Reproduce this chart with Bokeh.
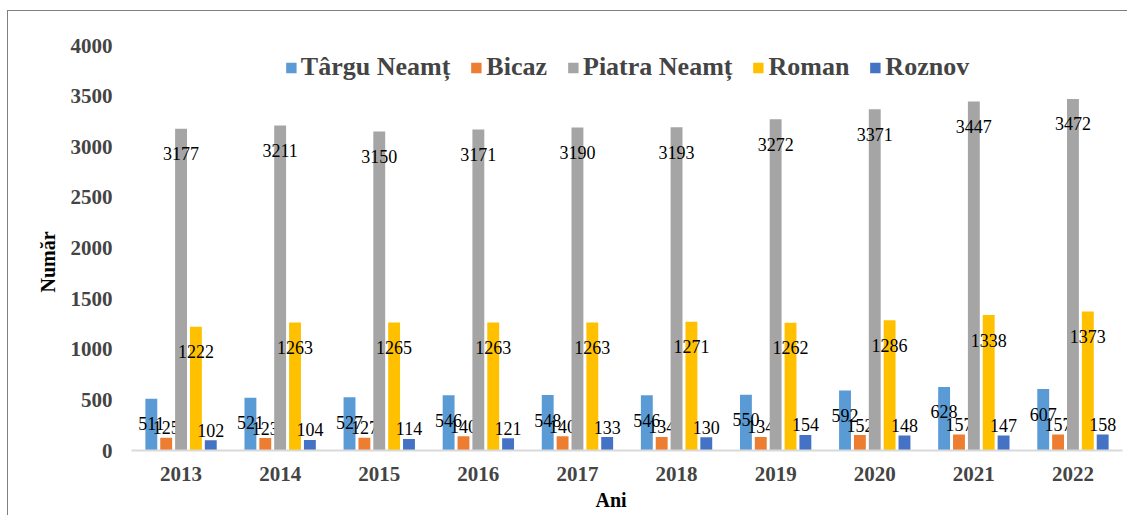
from bokeh.plotting import figure
from bokeh.models import ColumnDataSource, FactorRange, Range1d, FixedTicker, Legend, LegendItem, Title
from bokeh.transform import dodge
from bokeh.core.properties import value
from bokeh.embed import file_html
from bokeh.resources import INLINE

years = ["2013", "2014", "2015", "2016", "2017", "2018", "2019", "2020", "2021", "2022"]
targu_neamt = [511, 521, 527, 546, 548, 546, 550, 592, 628, 607]
bicaz = [125, 123, 127, 140, 140, 134, 134, 152, 157, 157]
piatra_neamt = [3177, 3211, 3150, 3171, 3190, 3193, 3272, 3371, 3447, 3472]
roman = [1222, 1263, 1265, 1263, 1263, 1271, 1262, 1286, 1338, 1373]
roznov = [102, 104, 114, 121, 133, 130, 154, 148, 147, 158]
y_ticks = [0, 500, 1000, 1500, 2000, 2500, 3000, 3500, 4000]

series = [
    ("Târgu Neamț", targu_neamt, "#5B9BD5"),
    ("Bicaz", bicaz, "#ED7D31"),
    ("Piatra Neamț", piatra_neamt, "#A5A5A5"),
    ("Roman", roman, "#FFC000"),
    ("Roznov", roznov, "#4472C4"),
]
offsets = [-0.3, -0.15, 0.0, 0.15, 0.3]

FONT = "Liberation Serif"

p = figure(x_range=FactorRange(*years), y_range=Range1d(0, 4000),
           width=1120, height=505, output_backend="svg", toolbar_location=None,
           min_border_left=123, min_border_right=6, min_border_top=34, min_border_bottom=66)
p.styles = {"border-top": "1px solid #7f7f7f", "border-left": "1px solid #7f7f7f",
            "margin-top": "10px", "margin-left": "7px"}
p.outline_line_color = None
p.xgrid.grid_line_color = None
p.ygrid.grid_line_color = None

items = []
for (name, vals, color), off in zip(series, offsets):
    src = ColumnDataSource(dict(year=years, val=vals))
    r = p.vbar(x=dodge("year", off, range=p.x_range), top="val", width=0.12, source=src,
               fill_color=color, line_color=None)
    items.append(LegendItem(label=name, renderers=[r]))
    big = [v >= 300 for v in vals]
    src_big = ColumnDataSource(dict(year=[y for y, b in zip(years, big) if b],
                                    val=[v for v, b in zip(vals, big) if b],
                                    lab=[str(v) for v, b in zip(vals, big) if b]))
    src_small = ColumnDataSource(dict(year=[y for y, b in zip(years, big) if not b],
                                      val=[v for v, b in zip(vals, big) if not b],
                                      lab=[str(v) for v, b in zip(vals, big) if not b]))
    p.text(x=dodge("year", off, range=p.x_range), y="val", text="lab", source=src_big,
           text_align="center", text_baseline="middle", y_offset=25,
           text_font=value(FONT), text_font_size="18px", text_color="#000000")
    p.text(x=dodge("year", off, range=p.x_range), y="val", text="lab", source=src_small,
           text_align="center", text_baseline="middle", y_offset=-10,
           text_font=value(FONT), text_font_size="18px", text_color="#000000")

legend = Legend(items=items, orientation="horizontal", location="top_center",
                border_line_color=None, background_fill_alpha=0,
                label_text_font=FONT, label_text_font_style="bold", label_text_font_size="26px",
                glyph_width=13, glyph_height=13, spacing=19, label_standoff=4,
                margin=7, padding=2)
p.add_layout(legend, "center")

p.yaxis.ticker = FixedTicker(ticks=y_ticks)
p.yaxis.axis_line_color = None
p.yaxis.major_tick_line_color = None
p.yaxis.minor_tick_line_color = None
p.yaxis.major_label_text_font = FONT
p.yaxis.major_label_text_font_style = "bold"
p.yaxis.major_label_text_font_size = "21px"
p.yaxis.major_label_standoff = 13

p.xaxis.axis_line_color = "#D9D9D9"
p.xaxis.axis_line_width = 2
p.xaxis.major_tick_line_color = None
p.xaxis.minor_tick_line_color = None
p.xaxis.major_label_text_font = FONT
p.xaxis.major_label_text_font_style = "bold"
p.xaxis.major_label_text_font_size = "21px"
p.xaxis.major_label_standoff = 10

ytitle = Title(text="Număr", align="left", offset=158, standoff=18,
               text_font=FONT, text_font_style="bold", text_font_size="20px", text_color="#000000")
p.add_layout(ytitle, "left")
xtitle = Title(text="Ani", align="left", offset=464, standoff=6,
               text_font=FONT, text_font_style="bold", text_font_size="20px", text_color="#000000")
p.add_layout(xtitle, "below")

open("out.html", "w").write(file_html(p, INLINE))
